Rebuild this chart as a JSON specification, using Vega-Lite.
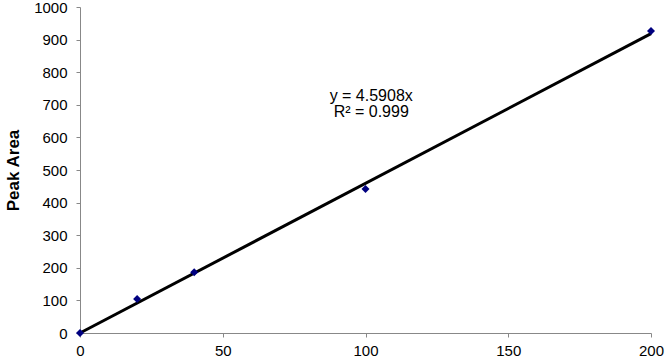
{
  "$schema": "https://vega.github.io/schema/vega-lite/v6.json",
  "autosize": {"type": "none"},
  "width": 571,
  "height": 326,
  "padding": {"left": 80, "top": 7, "right": 17, "bottom": 29},
  "background": "white",
  "config": {
    "view": {"stroke": null},
    "font": "Liberation Sans",
    "axis": {
      "grid": false,
      "domainColor": "#888888",
      "tickColor": "#888888",
      "tickSize": 4,
      "labelFont": "Liberation Sans",
      "labelFontSize": 15,
      "labelColor": "#000000",
      "labelOverlap": false,
      "labelFlush": false,
      "titleFont": "Liberation Sans",
      "titleColor": "#000000"
    }
  },
  "datasets": {
    "pts": [
      {"conc": 0, "area": 0},
      {"conc": 20, "area": 104},
      {"conc": 40, "area": 186},
      {"conc": 100, "area": 442},
      {"conc": 200, "area": 926}
    ],
    "fit": [
      {"conc": 0, "area": 0},
      {"conc": 200, "area": 918.16}
    ],
    "label": [
      {"conc": 102, "area": 727, "text": "y = 4.5908x"},
      {"conc": 102, "area": 678, "text": "R² = 0.999"}
    ]
  },
  "encoding": {
    "x": {"field": "conc", "type": "quantitative", "scale": {"domain": [0, 200], "nice": false},
      "axis": {"values": [0, 50, 100, 150, 200], "tickCount": 20, "format": "d", "title": null, "labelPadding": 6}},
    "y": {"field": "area", "type": "quantitative", "scale": {"domain": [0, 1000], "nice": false},
      "axis": {"values": [0, 100, 200, 300, 400, 500, 600, 700, 800, 900, 1000], "tickCount": 20, "labelOverlap": false, "format": "d", "title": "Peak Area",
        "titleFontSize": 17, "titleFontWeight": "bold", "titlePadding": 11, "labelPadding": 9}}
  },
  "layer": [
    {
      "data": {"name": "fit"},
      "mark": {"type": "line", "color": "#000000", "strokeWidth": 3, "clip": false}
    },
    {
      "data": {"name": "pts"},
      "mark": {"type": "point", "shape": "diamond", "filled": true, "color": "#000080", "opacity": 1, "size": 64, "clip": false}
    },
    {
      "data": {"name": "label"},
      "mark": {"type": "text", "fontSize": 16, "color": "#000000", "align": "center", "baseline": "middle"},
      "encoding": {
        "text": {"field": "text"}
      }
    }
  ]
}
